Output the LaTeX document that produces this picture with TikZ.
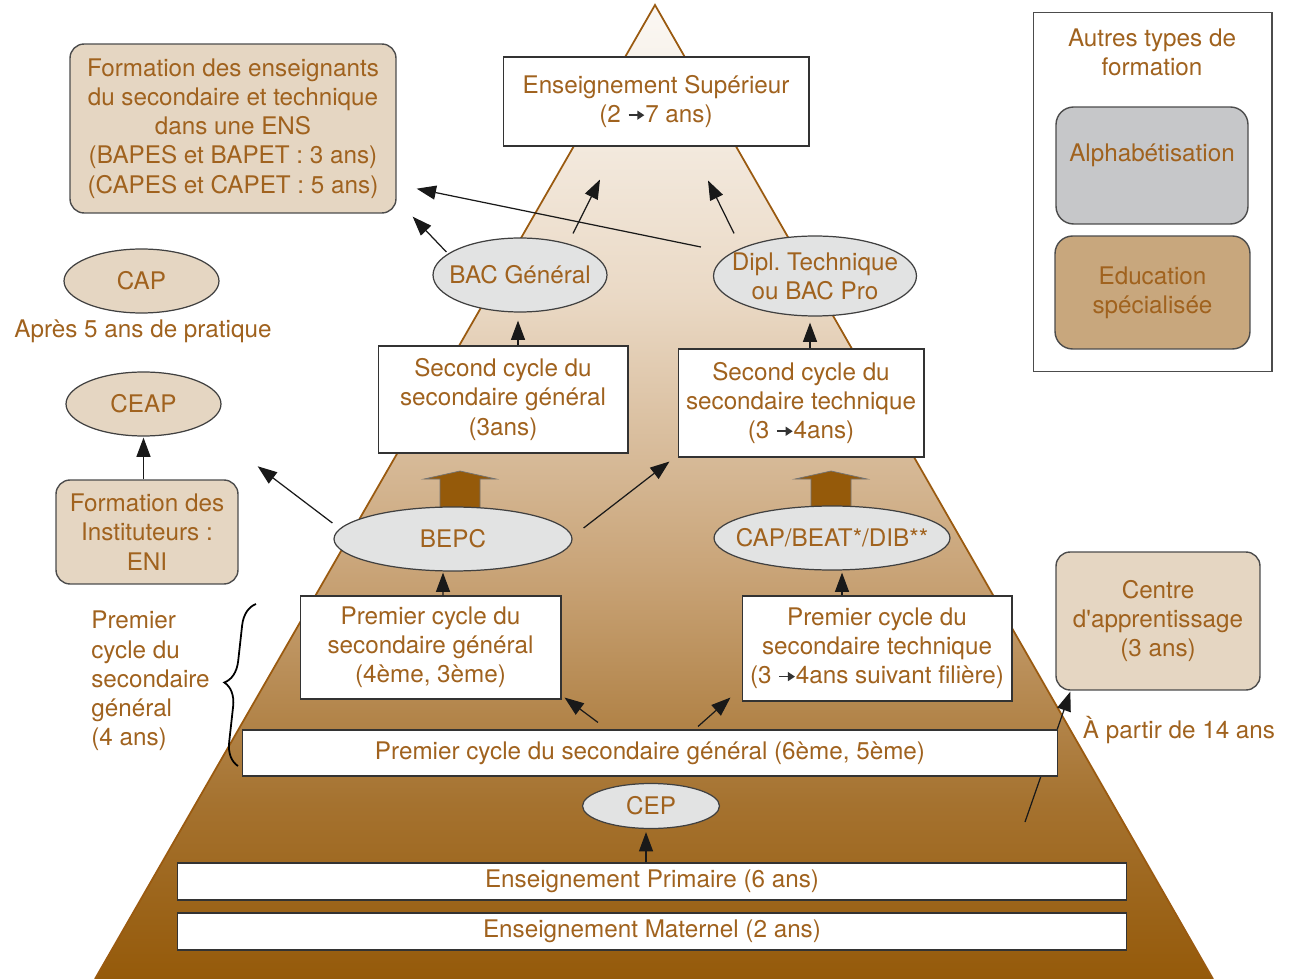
\documentclass[tikz,border=0pt]{standalone}
\usepackage{fontspec}
\setmainfont{TeX Gyre Heros}
\usepackage{tikz}
\usetikzlibrary{arrows.meta,positioning,calc,shapes.geometric,decorations.pathreplacing}
\usepackage{xcolor}
\definecolor{txtbrown}{HTML}{A0621E}
\definecolor{tanfill}{HTML}{E5D6C2}
\definecolor{examgrey}{HTML}{E2E3E3}
\definecolor{alphafill}{HTML}{C6C7C9}
\definecolor{edufill}{HTML}{C8A77D}
\definecolor{pyrline}{HTML}{9A5A10}
\definecolor{pyrdark}{HTML}{955A0A}
\definecolor{pyrB}{HTML}{A5722F}
\definecolor{pyrC}{HTML}{C9A478}
\definecolor{pyrD}{HTML}{EAD9C5}
\definecolor{pyrtop}{HTML}{FBF8F4}
\pgfdeclareverticalshading{pyrshade}{100bp}{color(0bp)=(pyrdark); color(25bp)=(pyrdark); color(34bp)=(pyrB); color(46bp)=(pyrC); color(60bp)=(pyrD); color(75bp)=(pyrtop); color(100bp)=(pyrtop)}
% small arrow used inside the texts
\newcommand{\tto}{\tikz[baseline=-4.2pt,x=1pt,y=1pt]\draw[draw=black!80,line width=1pt,-{Triangle[length=4pt,width=5pt]}] (0,0) -- (9,0);}
\frenchspacing

\begin{document}
\begin{tikzpicture}[x=0.02cm,y=-0.02cm,>={Triangle[length=11pt,width=8pt]},
  every node/.style={font=\fontsize{13.8}{16.6}\selectfont,text=txtbrown},
  plainbox/.style={draw=black!80,fill=white,line width=0.6pt,align=center,inner sep=0pt},
  tanbox/.style={draw=black!70,fill=tanfill,rounded corners=8pt,line width=0.8pt,align=center,inner sep=0pt},
  exam/.style={ellipse,draw=black!75,fill=examgrey,line width=0.7pt,align=center,inner xsep=-20pt,inner ysep=0pt},
  tanoval/.style={exam,fill=tanfill},
  link/.style={->,line width=0.7pt,draw=black!90},
  fatarrow/.style={fill=pyrdark,draw=black!55,line width=0.4pt}]
\useasboundingbox (0,0) rectangle (1294,979);

% pyramid
\coordinate (apex) at (655,5);
\coordinate (pbl) at (95,979);
\coordinate (pbr) at (1213,979);
\shade[shading=pyrshade] (apex) -- (pbr) -- (pbl) -- cycle;
\draw[draw=pyrline,line width=1pt] (pbl) -- (apex) -- (pbr);

% thick arrows
\foreach \cx in {460,831}{
  \draw[fatarrow] (\cx-20,512) -- (\cx-20,479) -- (\cx-36,479) -- (\cx,471)
    -- (\cx+36,479) -- (\cx+20,479) -- (\cx+20,512) -- cycle;
}

% higher levels
\node[plainbox,minimum width=6.12cm,minimum height=1.78cm] (enssup) at (656,101.5) {Enseignement Supérieur\\(2 \tto7 ans)};
\node[tanbox,minimum width=6.52cm,minimum height=3.38cm] (form) at (233,128.5) {Formation des enseignants\\du secondaire et technique\\dans une ENS\\(BAPES et BAPET : 3 ans)\\(CAPES et CAPET : 5 ans)};
\node[exam,minimum width=3.48cm,minimum height=1.48cm] (bac) at (520,275) {BAC Général};
\node[exam,minimum width=4.06cm,minimum height=1.6cm] (dipl) at (815,276) {Dipl. Technique\\ou BAC Pro};
\node[plainbox,minimum width=5.0cm,minimum height=2.14cm] (gen2) at (503,399.5) {Second cycle du\\secondaire général\\(3ans)};
\node[plainbox,minimum width=4.92cm,minimum height=2.16cm] (tech2) at (801,403) {Second cycle du\\secondaire technique\\(3 \tto4ans)};

% left column
\node[tanoval,minimum width=3.1cm,minimum height=1.28cm] (cap) at (141.5,281) {CAP};
\node (capnote) at (143,331) {Après 5 ans de pratique};
\node[tanoval,minimum width=3.1cm,minimum height=1.28cm] (ceap) at (143.5,404) {CEAP};
\node[tanbox,minimum width=3.64cm,minimum height=2.08cm] (inst) at (147,532) {Formation des\\Instituteurs :\\ENI};
\node[anchor=west,align=left,inner sep=0pt] (bracenote) at (91,681) {Premier\\cycle du\\secondaire\\général\\(4 ans)};
\draw[decorate,decoration={brace,amplitude=13pt},line width=1pt] (238,766) -- (256,604);

% legend
\node[draw=black!70,line width=0.6pt,fill=white,minimum width=4.78cm,minimum height=7.2cm] (autres) at (1152.5,192) {};
\node[align=center] (autrestitle) at (1152,52.5) {Autres types de\\formation};
\node[tanbox,fill=alphafill,rounded corners=10pt,minimum width=3.84cm,minimum height=2.34cm] (alpha) at (1152,165.5) {};
\node (alphatxt) at (1152,155) {Alphabétisation};
\node[tanbox,fill=edufill,rounded corners=10pt,minimum width=3.9cm,minimum height=2.26cm] (edu) at (1152.5,292.5) {Education\\spécialisée};

% exams and lower cycles
\node[exam,minimum width=4.76cm,minimum height=1.28cm] (bepc) at (453,539) {BEPC};
\node[exam,minimum width=4.72cm,minimum height=1.28cm] (capbeat) at (832,538) {CAP/BEAT*/DIB**};
\node[plainbox,minimum width=5.22cm,minimum height=2.06cm] (prem1g) at (430.5,647.5) {Premier cycle du\\secondaire général\\(4ème, 3ème)};
\node[plainbox,minimum width=5.4cm,minimum height=2.1cm] (prem1t) at (877,648.5) {Premier cycle du\\secondaire technique\\(3 \tto4ans suivant filière)};
\node[tanbox,minimum width=4.08cm,minimum height=2.76cm] (centre) at (1158,621) {Centre\\d\textquotesingle apprentissage\\(3 ans)};
\node (age) at (1179,730) {À partir de 14 ans};
\coordinate (age14) at (1025,822);
\draw[link] (age14) -- ($(centre.south west)+(15,1)$);
\node[plainbox,minimum width=16.32cm,minimum height=0.92cm] (bar6) at (650,753) {Premier cycle du secondaire général (6ème, 5ème)};
\node[exam,minimum width=2.74cm,minimum height=0.9cm] (cep) at (651,806) {CEP};
\node[plainbox,minimum width=19cm,minimum height=0.74cm] (prim) at (652,881.5) {Enseignement Primaire (6 ans)};
\node[plainbox,minimum width=19cm,minimum height=0.74cm] (mat) at (652,931.5) {Enseignement Maternel (2 ans)};

% links
\draw[link] (inst.north -| ceap.south) -- ($(ceap.south)+(0,1)$);
\draw[link] ($(prem1g.north)+(12.5,0)$) -- ($(bepc.south)+(-10,1)$);
\draw[link] ($(prem1t.north)+(-35,0)$) -- ($(capbeat.south)+(10,2)$);
\draw[link] ($(prim.north)+(-6,0)$) -- ($(cep.south)+(-5,3)$);
\draw[link] ($(tech2.north)+(9,0)$) -- ($(dipl.south)+(-5,6)$);
\draw[link] ($(gen2.north)+(15,0)$) -- ($(bac.south)+(-2,8)$);
\draw[link] ($(bepc.west)+(-1,-16)$) -- ($(inst.north east)+(19,-13)$);
\draw[link] ($(bepc.east)+(11,-11)$) -- ($(tech2.south west)+(-8,4)$);
\draw[link] ($(bar6.north)+(-52,-7)$) -- ($(prem1g.south east)+(3,-2)$);
\draw[link] ($(bar6.north)+(48,-3)$) -- ($(prem1t.south west)+(-11,-4)$);
\draw[link] ($(bac.north)+(53,-4)$) -- ($(enssup.south)+(-56,33)$);
\draw[link] ($(dipl.north)+(-81,-2)$) -- ($(enssup.south)+(52,34)$);
\draw[link] ($(dipl.west)+(-12,-29)$) -- ($(form.south east)+(20,-25)$);
\draw[link] ($(bac.west)+(14,-23)$) -- ($(form.south east)+(16,3)$);
\end{tikzpicture}
\end{document}
